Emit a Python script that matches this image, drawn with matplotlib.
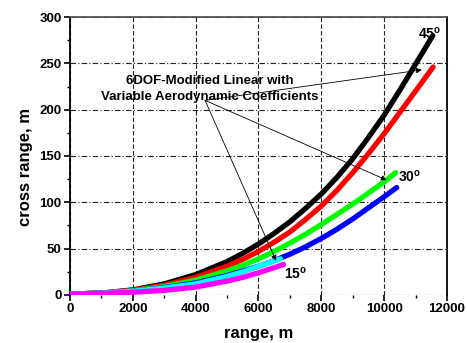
import matplotlib
matplotlib.use("Agg")
import matplotlib.pyplot as plt
from matplotlib.ticker import MultipleLocator

plt.rcParams['font.family'] = ['Liberation Sans', 'DejaVu Sans']
plt.rcParams['font.weight'] = 'bold'
plt.rcParams['mathtext.fontset'] = 'custom'
plt.rcParams['mathtext.bf'] = 'Liberation Sans:bold'
plt.rcParams['mathtext.rm'] = 'Liberation Sans:bold'

# values (range m, cross range m)
x_45a = [0, 1000, 2000, 3000, 4000, 5000, 5500, 6000, 6500, 7000, 7500, 8000,
         8500, 9000, 9500, 10000, 10500, 11000, 11550]
y_45a = [1, 2, 5.5, 12, 22, 36, 45, 55, 66.5, 79, 93.5, 109,
         127, 147, 170, 194, 221, 249, 280]
x_45b = [0, 1000, 2000, 3000, 4000, 5000, 5500, 6000, 6500, 7000, 7500, 8000,
         8500, 9000, 9500, 10000, 10500, 11000, 11560]
y_45b = [1, 2, 5, 10.5, 19, 31, 38.5, 47, 57, 68, 81.5, 96,
         113, 132, 152.5, 174, 197, 220, 246]
x_30a = [0, 1000, 2000, 3000, 4000, 5000, 5500, 6000, 6500, 7000, 7500, 8000,
         8500, 9000, 9500, 10000, 10370]
y_30a = [1, 2, 4.5, 9, 16, 26, 32, 39, 47, 56, 65.5, 76,
         87, 98, 110, 122, 132]
x_30b = [0, 1000, 2000, 3000, 4000, 5000, 5500, 6000, 6500, 7000, 7500, 8000,
         8500, 9000, 9500, 10000, 10400]
y_30b = [1, 2, 4, 8, 13, 21, 26, 31, 37, 44, 52, 61,
         71, 82, 94, 106, 116]
x_15a = [0, 1000, 2000, 3000, 4000, 5000, 5500, 6000, 6700]
y_15a = [1, 2, 4, 7.5, 12, 20, 25, 31, 39]
x_15b = [0, 1000, 2000, 3000, 4000, 5000, 5500, 6000, 6500, 6800]
y_15b = [1, 1.8, 3, 5, 8.5, 15, 19, 24, 29.5, 33]

angle_labels = ['45$^\\mathbf{o}$', '30$^\\mathbf{o}$', '15$^\\mathbf{o}$']
note = '6DOF-Modified Linear with\nVariable Aerodynamic Coefficients'

fig = plt.figure(figsize=(4.67, 3.43), dpi=100)
ax = fig.add_axes([0.15, 0.14, 0.807, 0.8104])

curves = [(x_45a, y_45a, 'black'), (x_45b, y_45b, '#ff0000'),
          (x_30a, y_30a, '#00ff00'), (x_30b, y_30b, '#0000ff'),
          (x_15a, y_15a, '#00ffff'), (x_15b, y_15b, '#ff00ff')]
for xs, ys, c in curves:
    ax.plot(xs, ys, color=c, lw=3.8, solid_capstyle='round',
            solid_joinstyle='round', zorder=3)

ax.set_xlim(0, 12000)
ax.set_ylim(0, 300)
ax.xaxis.set_major_locator(MultipleLocator(2000))
ax.xaxis.set_minor_locator(MultipleLocator(1000))
ax.yaxis.set_major_locator(MultipleLocator(50))
ax.yaxis.set_minor_locator(MultipleLocator(25))
ax.tick_params(which='major', direction='out', length=4, width=1.2, labelsize=9.5, pad=2)
ax.tick_params(which='minor', direction='out', length=2.5, width=1.0)

ax.xaxis.grid(True, which='major', color='#222222', lw=0.8, linestyle=(0, (4, 2)))
ax.yaxis.grid(True, which='major', color='#222222', lw=0.8, linestyle=(0, (5, 2, 1, 2)))
ax.set_axisbelow(True)
ax.spines['bottom'].set_visible(False)
for s in ['left', 'right', 'top']:
    ax.spines[s].set_linewidth(1.3)
ax.spines['top'].set_color('#555555')

ax.set_xlabel('range, m', fontsize=12, fontweight='bold', labelpad=8)
ax.set_ylabel('cross range, m', fontsize=12, fontweight='bold')
ax.yaxis.set_label_coords(-0.098, 0.46)

ax.text(11450, 282, angle_labels[0], fontsize=10, ha='center', va='center')
ax.text(10450, 128, angle_labels[1], fontsize=10, ha='left', va='center')
ax.text(6800, 23, angle_labels[2], fontsize=10, ha='left', va='center')

ax.text(4450, 222, note, fontsize=9.5, ha='center', va='center', linespacing=1.4)
start = (4300, 210)
for tip in [(11200, 243), (10080, 124), (6560, 37)]:
    ax.annotate('', xy=tip, xytext=start,
                arrowprops=dict(arrowstyle='-|>', color='black', lw=0.6,
                                mutation_scale=8, shrinkA=0, shrinkB=0),
                zorder=4)

fig.savefig('out.png', dpi=100)
